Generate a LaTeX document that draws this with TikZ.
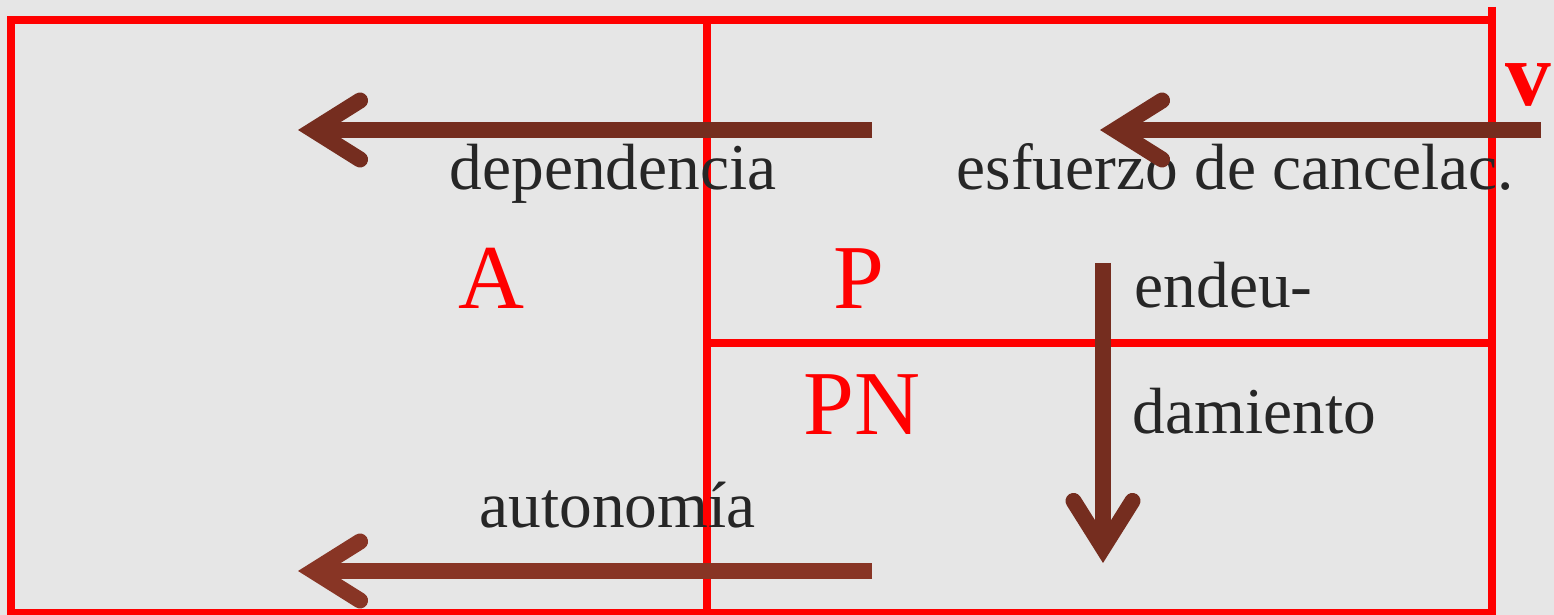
\documentclass[tikz,border=0pt]{standalone}
\usepackage{fontspec}
\setmainfont{Liberation Serif}
\usetikzlibrary{arrows.meta}

\definecolor{boxred}{RGB}{255,0,0}
\definecolor{rust}{RGB}{117,45,31}
\definecolor{rustlight}{RGB}{136,53,37}
\definecolor{ink}{RGB}{38,38,38}
\definecolor{paper}{RGB}{230,230,230}

\begin{document}
\begin{tikzpicture}[x=0.1mm, y=-0.1mm,
    frame/.style={draw=boxred, line width=0.75mm},
    flow/.style={draw=rust, line width=1.6mm,
        -{Straight Barb[length=4.7mm, width=5.9mm, line cap=round, line join=miter]}},
    word/.style={text=ink, font=\fontsize{18.6}{20}\selectfont, inner sep=0pt, anchor=base west},
    zone/.style={text=boxred, font=\fontsize{26}{30}\selectfont, inner sep=0pt, anchor=base west}]
    % Paper and page size
    \fill[paper] (0,0) rectangle (1554,615);
    \useasboundingbox (0,0) rectangle (1554,615);
    \clip (0,0) rectangle (1554,615);

    % Red frame: outer box, middle split, lower right cell
    \draw[frame] (11,20) rectangle (1492,613);
    \draw[frame] (1492,7) -- (1492,613);  % right edge runs above the box
    \draw[frame] (707,20) -- (707,613);
    \draw[frame] (707,343) -- (1492,343);

    % Zone letters
    \node (A) [zone] at (458,309) {A};
    \node (P) [zone] at (833,309) {P};
    \node (PN) [zone] at (803,435) {PN};
    \node (V) [zone, font=\fontsize{26}{30}\selectfont\bfseries] at (1505,106) {v};

    % Labels
    \node (dep) [word] at (449,190) {dependencia};
    \node (esf) [word] at (956,190) {esfuerzo de cancelac.};
    \node (aut) [word] at (479,528) {autonomía};
    \node (end1) [word] at (1134,308) {endeu-};
    \node (end2) [word] at (1132,434) {damiento};

    % Arrow end points
    \coordinate (depTail) at (872,130);
    \coordinate (depHead) at (298,130);
    \coordinate (esfTail) at (1541,130);
    \coordinate (esfHead) at (1100,130);
    \coordinate (autTail) at (872,571);
    \coordinate (autHead) at (298,571);
    \coordinate (endTail) at (1103,263);
    \coordinate (endHead) at (1103,563);

    % Arrows
    \draw[flow] (depTail) -- (depHead);
    \draw[flow] (esfTail) -- (esfHead);
    \draw[flow, draw=rustlight] (autTail) -- (autHead);
    \draw[flow] (endTail) -- (endHead);
\end{tikzpicture}
\end{document}
